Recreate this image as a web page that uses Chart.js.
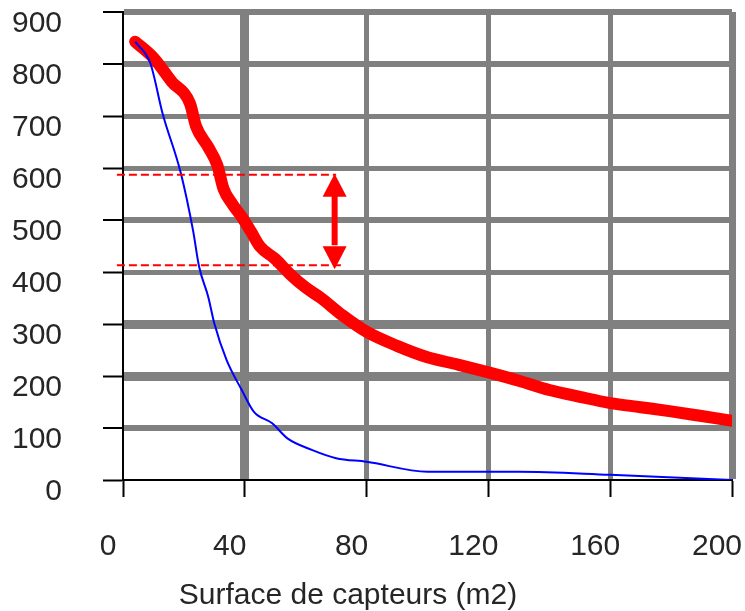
<!DOCTYPE html>
<html lang="fr">
<head>
    <meta charset="UTF-8">
    <title>Surface de capteurs</title>
    <script src="https://cdn.jsdelivr.net/npm/chart.js"></script>
    <style>
        body {
            margin: 0;
            background-color: #ffffff;
        }

        .chart-box {
            width: 745px;
            height: 611px;
        }
    </style>
</head>
<body>
    <div class="chart-box">
        <canvas id="chart1" width="745" height="611"></canvas>
    </div>

    <script>
        // courbe rouge (épaisse)
        var surfaceRouge = [4, 10, 16, 22, 24, 28, 31, 33, 36, 39, 42, 45, 50, 55, 60, 65, 72, 80, 90, 100, 110, 120, 130, 140, 150, 160, 170, 180, 190, 200];
        var valeursRouge = [843, 812, 766, 724, 680, 640, 605, 560, 530, 506, 478, 449, 425, 395, 370, 350, 317, 285, 258, 236, 222, 207, 191, 173, 160, 148, 140, 132, 123, 114];

        // courbe bleue (fine)
        var surfaceBleu = [4, 9, 13, 19, 23, 25, 28, 30, 34, 39, 43, 49, 54, 62, 70, 80, 100, 130, 160, 200];
        var valeursBleu = [843, 801, 705, 590, 480, 410, 352, 301, 231, 173, 131, 109, 80, 58, 42, 35, 16, 16, 10, 0];

        var ticksX = [0, 40, 80, 120, 160, 200];
        var ticksY = [0, 100, 200, 300, 400, 500, 600, 700, 800, 900];

        // écart marqué par la flèche
        var ecartHaut = 587;
        var ecartBas = 413;
        var ecartDebut = -2;
        var ecartFinHaut = 70;
        var ecartFinBas = 72;
        var ecartFleche = 69.5;

        var titreX = 'Surface de capteurs (m2)';

        function points(xs, ys) {
            return xs.map(function (x, i) { return { x: x, y: ys[i] }; });
        }

        var grisY = { 900: 6, 800: 6, 700: 5, 600: 5, 500: 6, 400: 5, 300: 9, 200: 9, 100: 6 };
        var grisX = { 40: 9, 80: 5, 120: 5, 160: 5, 200: 7 };

        var police = { family: "'Liberation Sans', Arial, sans-serif", size: 30 };

        var ecartPlugin = {
            id: 'ecart',
            afterDatasetsDraw: function (chart) {
                var c = chart.ctx;
                var sx = chart.scales.x, sy = chart.scales.y;
                var yH = sy.getPixelForValue(ecartHaut);
                var yB = sy.getPixelForValue(ecartBas);
                c.save();
                c.strokeStyle = '#ff0000';
                c.fillStyle = '#ff0000';
                c.lineWidth = 2;
                c.setLineDash([8, 4]);
                c.beginPath();
                c.moveTo(sx.getPixelForValue(ecartDebut), yH);
                c.lineTo(sx.getPixelForValue(ecartFinHaut), yH);
                c.moveTo(sx.getPixelForValue(ecartDebut), yB);
                c.lineTo(sx.getPixelForValue(ecartFinBas), yB);
                c.stroke();
                c.setLineDash([]);

                var xf = sx.getPixelForValue(ecartFleche);
                c.lineWidth = 6;
                c.beginPath();
                c.moveTo(xf, yH + 20);
                c.lineTo(xf, yB - 20);
                c.stroke();
                c.beginPath();
                c.moveTo(xf, yH - 1);
                c.lineTo(xf - 12, yH + 22);
                c.lineTo(xf + 12, yH + 22);
                c.closePath();
                c.fill();
                c.beginPath();
                c.moveTo(xf, yB + 4);
                c.lineTo(xf - 12, yB - 19);
                c.lineTo(xf + 12, yB - 19);
                c.closePath();
                c.fill();
                c.restore();
            },
            afterDraw: function (chart) {
                var c = chart.ctx;
                c.save();
                c.font = "30px 'Liberation Sans', Arial, sans-serif";
                c.fillStyle = '#262626';
                c.textAlign = 'center';
                c.textBaseline = 'middle';
                c.fillText(titreX, 348, 596);
                c.restore();
            }
        };

        var ctx1 = document.getElementById('chart1').getContext('2d');
        var chart1 = new Chart(ctx1, {
            type: 'line',
            data: {
                datasets: [{
                    data: points(surfaceBleu, valeursBleu),
                    borderColor: '#0000ff',
                    borderWidth: 2,
                    pointRadius: 0,
                    cubicInterpolationMode: 'monotone',
                    fill: false
                }, {
                    data: points(surfaceRouge, valeursRouge),
                    borderColor: '#ff0000',
                    borderWidth: 12,
                    borderCapStyle: 'round',
                    borderJoinStyle: 'round',
                    pointRadius: 0,
                    cubicInterpolationMode: 'monotone',
                    fill: false
                }]
            },
            plugins: [ecartPlugin],
            options: {
                responsive: false,
                animation: false,
                layout: {
                    padding: { left: 0, right: 13, top: 12, bottom: 0 }
                },
                plugins: {
                    legend: { display: false },
                    tooltip: { enabled: false }
                },
                scales: {
                    x: {
                        type: 'linear',
                        min: 0,
                        max: 200,
                        afterBuildTicks: function (scale) {
                            scale.ticks = ticksX.map(function (v) { return { value: v }; });
                        },
                        afterFit: function (scale) {
                            scale.height = 131;
                            scale.paddingLeft = 0;
                            scale.paddingRight = 0;
                        },
                        border: { color: '#000000', width: 2 },
                        grid: {
                            color: function (c) { return c.tick && c.tick.value === 0 ? 'rgba(0,0,0,0)' : '#808080'; },
                            lineWidth: function (c) { return c.tick ? (grisX[c.tick.value] || 1) : 1; },
                            tickColor: '#000000',
                            tickWidth: 2,
                            tickLength: 17
                        },
                        ticks: {
                            color: '#262626',
                            font: police,
                            padding: 32,
                            labelOffset: -15,
                            maxRotation: 0
                        }
                    },
                    y: {
                        min: 0,
                        max: 900,
                        afterBuildTicks: function (scale) {
                            scale.ticks = ticksY.map(function (v) { return { value: v }; });
                        },
                        afterFit: function (scale) {
                            scale.width = 123;
                            scale.paddingTop = 0;
                            scale.paddingBottom = 0;
                        },
                        border: { color: '#000000', width: 2 },
                        grid: {
                            color: function (c) { return c.tick && c.tick.value === 0 ? 'rgba(0,0,0,0)' : '#808080'; },
                            lineWidth: function (c) { return c.tick ? (grisY[c.tick.value] || 1) : 1; },
                            tickColor: '#000000',
                            tickWidth: 2,
                            tickLength: 20
                        },
                        ticks: {
                            color: '#262626',
                            font: police,
                            padding: 41,
                            labelOffset: 12
                        }
                    }
                }
            }
        });
    </script>
</body>
</html>
